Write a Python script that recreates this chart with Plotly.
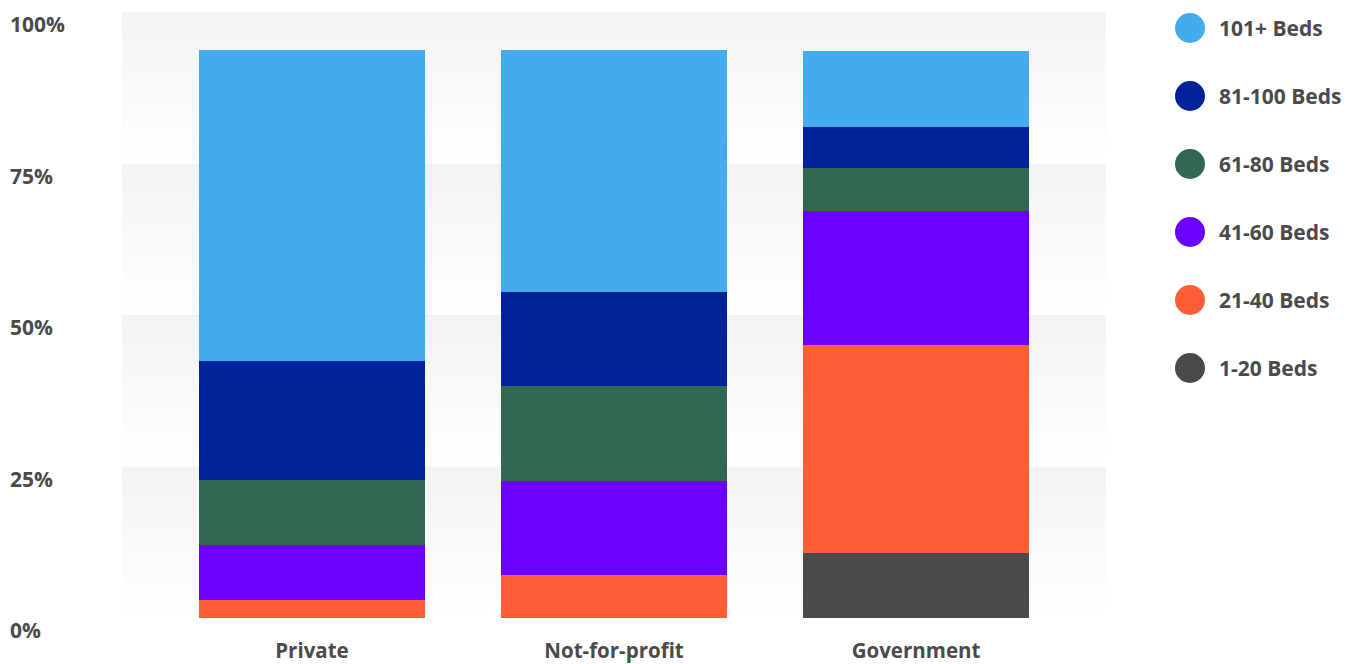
import plotly.graph_objects as go

categories = ["Private", "Not-for-profit", "Government"]
series_names = ["1-20 Beds", "21-40 Beds", "41-60 Beds", "61-80 Beds", "81-100 Beds", "101+ Beds"]
series_colors = ["#4a4a4a", "#ff5d33", "#6a00ff", "#31684f", "#00239c", "#44acee"]
v_1_20 = [0.0, 0.0, 10.7]
v_21_40 = [3.0, 7.1, 34.3]
v_41_60 = [9.0, 15.5, 22.1]
v_61_80 = [10.8, 15.7, 7.1]
v_81_100 = [19.6, 15.5, 6.9]
v_101 = [51.3, 39.9, 12.5]
series_values = [v_1_20, v_21_40, v_41_60, v_61_80, v_81_100, v_101]
y_ticks = [0, 25, 50, 75, 100]
y_tick_labels = ["0%", "25%", "50%", "75%", "100%"]

W, H = 1357, 664
ML, MR, MT, MB = 122, 251, 12, 46
PW, PH = W - ML - MR, H - MT - MB
FONT = "Open Sans"
TXT = "#4a4a4a"
FS = 21

xs = list(range(len(categories)))
x_lo, x_hi = -0.629, 2.629

fig = go.Figure()

# gradient background bands (base subplot, drawn beneath the bars)
for i in range(len(y_ticks) - 1):
    y0, y1 = y_ticks[i], y_ticks[i + 1]
    fig.add_trace(go.Scatter(
        x=[x_lo, x_hi, x_hi, x_lo, x_lo], y=[y0, y0, y1, y1, y0],
        mode="lines", line=dict(width=0), fill="toself",
        fillgradient=dict(type="vertical", colorscale=[[0, "#ffffff"], [1, "#f3f3f3"]]),
        hoverinfo="skip", showlegend=False, xaxis="x", yaxis="y",
    ))

for name, color, vals in zip(series_names, series_colors, series_values):
    fig.add_trace(go.Bar(
        x=xs, y=vals, name=name, marker=dict(color=color, line=dict(width=0)),
        width=0.75, showlegend=False, hoverinfo="skip", xaxis="x2", yaxis="y2",
    ))

annotations = []
for v, lab in zip(y_ticks, y_tick_labels):
    annotations.append(dict(
        text=lab, xref="paper", yref="y", x=(8 - ML) / PW, y=v, yshift=-12,
        xanchor="left", yanchor="middle", showarrow=False,
        font=dict(family=FONT, size=FS, color=TXT, weight="bold"),
    ))

shapes = []
legend_order = list(range(len(series_names)))[::-1]
for row, idx in enumerate(legend_order):
    cy = 28 + row * 68
    cx = 1190
    r = 15
    shapes.append(dict(
        type="circle", xref="paper", yref="paper",
        x0=(cx - r - ML) / PW, x1=(cx + r - ML) / PW,
        y0=(H - MB - (cy + r)) / PH, y1=(H - MB - (cy - r)) / PH,
        fillcolor=series_colors[idx], line=dict(width=0),
    ))
    annotations.append(dict(
        text=series_names[idx], xref="paper", yref="paper",
        x=(1217 - ML) / PW, y=(H - MB - cy) / PH,
        xanchor="left", yanchor="middle", showarrow=False,
        font=dict(family=FONT, size=FS, color=TXT, weight="bold"),
    ))

fig.update_layout(
    width=W, height=H, margin=dict(l=ML, r=MR, t=MT, b=MB, pad=0, autoexpand=False),
    barmode="stack", bargap=0,
    plot_bgcolor="rgba(0,0,0,0)", paper_bgcolor="white",
    annotations=annotations, shapes=shapes, showlegend=False,
    xaxis=dict(range=[x_lo, x_hi], tickvals=xs, ticktext=categories,
               showgrid=False, zeroline=False, showline=False, ticks="",
               ticklabelstandoff=18, automargin=False,
               tickfont=dict(family=FONT, size=20.5, color=TXT, weight="bold"),
               fixedrange=True),
    yaxis=dict(range=[0, 100], showgrid=False, zeroline=False, showline=False,
               showticklabels=False, ticks="", fixedrange=True, automargin=False),
    xaxis2=dict(range=[x_lo, x_hi], overlaying="x", visible=False, fixedrange=True),
    yaxis2=dict(range=[0, 100], overlaying="y", visible=False, fixedrange=True),
)

fig.write_html("out.html", config={"displayModeBar": False},
               post_script="document.body.style.margin='0';")
